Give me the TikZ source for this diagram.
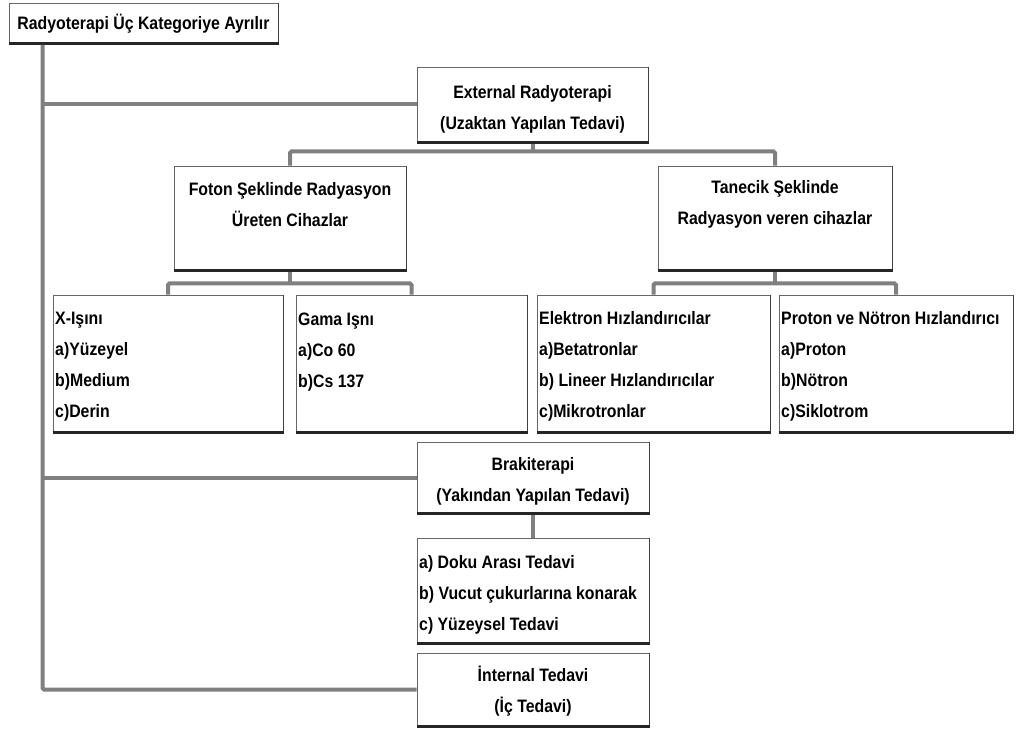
\documentclass[tikz,border=0pt]{standalone}
\usepackage{fontspec}
\setmainfont{Liberation Sans}[FakeStretch=0.88]
\usetikzlibrary{calc}
\definecolor{connc}{HTML}{808080}
\tikzset{
  conn/.style={draw=connc, line width=4pt, rounded corners=1.5pt},
  box/.style={draw=black!60, line width=0.9pt, fill=white, inner sep=0pt},
  txt/.style={inner sep=0pt, font=\fontsize{18}{31}\selectfont\bfseries, align=center},
  ltxt/.style={txt, align=left, anchor=west},
  botline/.style={draw=black!85, line width=3pt},
  rightline/.style={draw=black!75, line width=1.5pt},
}
\begin{document}
\begin{tikzpicture}[x=1pt, y=-1pt]
\fill[white] (0,0) rectangle (1017,733);
\useasboundingbox (0,0) rectangle (1017,733);

% boxes
\node[box, minimum width=269pt, minimum height=40pt] (title) at (143.5,23) {};
\node[box, minimum width=231pt, minimum height=75pt] (ext) at (532.5,104.5) {};
\node[box, minimum width=232pt, minimum height=104pt] (foton) at (290,218) {};
\node[box, minimum width=234pt, minimum height=104pt] (tanecik) at (775,218) {};
\node[box, minimum width=230pt, minimum height=137pt] (xray) at (168,363.5) {};
\node[box, minimum width=231pt, minimum height=137pt] (gama) at (411.5,363.5) {};
\node[box, minimum width=233pt, minimum height=137pt] (elek) at (653.5,363.5) {};
\node[box, minimum width=234pt, minimum height=137pt] (proton) at (896,363.5) {};
\node[box, minimum width=232pt, minimum height=71pt] (brak) at (533,477.5) {};
\node[box, minimum width=232pt, minimum height=105pt] (liste) at (533,590.5) {};
\node[box, minimum width=232pt, minimum height=73pt] (intern) at (533,689.5) {};

% box shading edges
\foreach \n in {title,ext,foton,tanecik,xray,gama,elek,proton,brak,liste,intern}{
  \draw[rightline] (\n.north east) -- (\n.south east);
  \draw[botline] ([yshift=-0.5pt]\n.south west) -- ([yshift=-0.5pt,xshift=0.75pt]\n.south east);
}

% texts
\node[txt] (titleT) at (143.5,24) {Radyoterapi Üç Kategoriye Ayrılır};
\node[txt] (extT) at (532.5,109) {External Radyoterapi\\(Uzaktan Yapılan Tedavi)};
\node[txt] (fotonT) at (290,204.5) {Foton Şeklinde Radyasyon\\Üreten Cihazlar};
\node[txt] (tanecikT) at (775,204.5) {Tanecik Şeklinde\\Radyasyon veren cihazlar};
\node[ltxt] (xrayT) at (55,367) {X-Işını\\a)Yüzeyel\\b)Medium\\c)Derin};
\node[ltxt] (gamaT) at (298,352) {Gama Işnı\\a)Co 60\\b)Cs 137};
\node[ltxt] (elekT) at (539,366) {Elektron Hızlandırıcılar\\a)Betatronlar\\b) Lineer Hızlandırıcılar\\c)Mikrotronlar};
\node[ltxt] (protonT) at (781,366) {Proton ve Nötron Hızlandırıcı\\a)Proton\\b)Nötron\\c)Siklotrom};
\node[txt] (brakT) at (533,481) {Brakiterapi\\(Yakından Yapılan Tedavi)};
\node[ltxt] (listeT) at (419,594.5) {a) Doku Arası Tedavi\\b) Vucut çukurlarına konarak\\c) Yüzeysel Tedavi};
\node[txt] (internT) at (533,691) {İnternal Tedavi\\(İç Tedavi)};

% connectors
\coordinate (tr) at ([xshift=34pt,yshift=-1.5pt]title.south west);
\draw[conn] (tr) |- (intern.west);
\draw[conn] (ext.west) -- (ext.west -| tr);
\draw[conn] (brak.west) -- (brak.west -| tr);

\coordinate (s1) at ($(ext.south)+(0,9)$);
\draw[conn] ([yshift=-1.5pt]ext.south) -- (s1);
\draw[conn] (foton.north) |- (s1) -| (tanecik.north);

\coordinate (s2) at ($(foton.south)+(0,13)$);
\draw[conn] ([yshift=-1.5pt]foton.south) -- (s2);
\draw[conn] (xray.north) |- (s2) -| (gama.north);

\coordinate (s3) at ($(tanecik.south)+(0,13)$);
\draw[conn] ([yshift=-1.5pt]tanecik.south) -- (s3);
\draw[conn] (elek.north) |- (s3) -| (proton.north);

\draw[conn] ([yshift=-1.5pt]brak.south) -- (liste.north);
\end{tikzpicture}
\end{document}
